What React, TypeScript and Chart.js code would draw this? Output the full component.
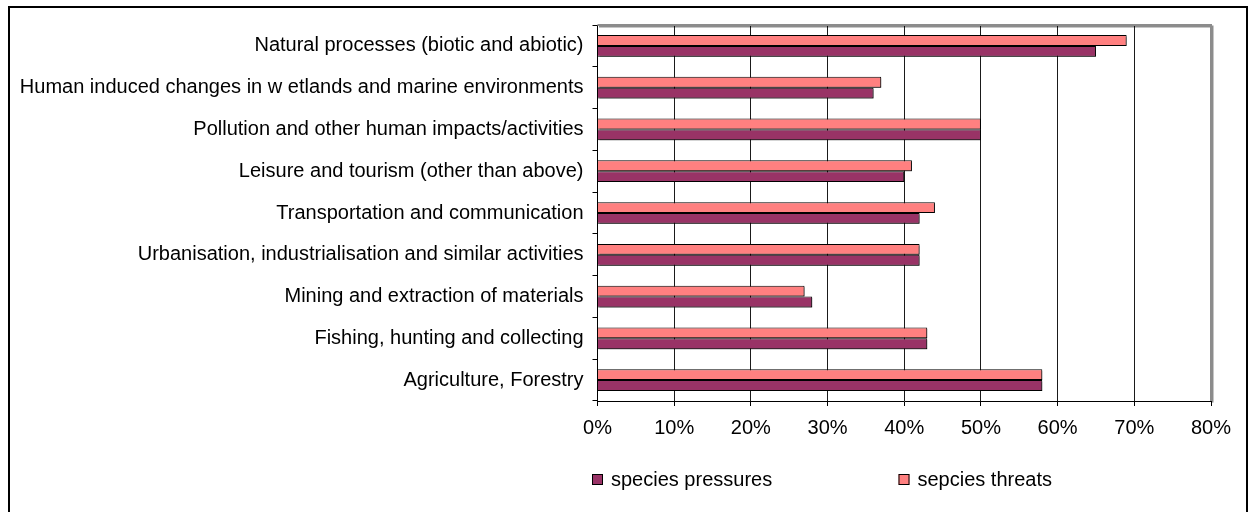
import React, { useEffect, useRef } from "react";
import { Chart, registerables } from "chart.js";

Chart.register(...registerables);

// Categories listed bottom-to-top (as in the original spreadsheet chart)
const categories = [
  "Agriculture, Forestry",
  "Fishing, hunting and collecting",
  "Mining and extraction of materials",
  "Urbanisation, industrialisation and similar activities",
  "Transportation and communication",
  "Leisure and tourism (other than above)",
  "Pollution and other human impacts/activities",
  "Human induced changes in w etlands and marine environments",
  "Natural processes (biotic and abiotic)",
];

const speciesPressures = [58, 43, 28, 42, 42, 40, 50, 36, 65];
const speciesThreats = [58, 43, 27, 42, 44, 41, 50, 37, 69];

const seriesNames = ["species pressures", "sepcies threats"];
const seriesColors = ["#993366", "#FF8080"];

const xTicks = [0, 10, 20, 30, 40, 50, 60, 70, 80];

const FONT = "'Liberation Sans', Arial, Helvetica, sans-serif";

const shadowPlugin = {
  id: "barShadow",
  beforeDatasetsDraw(chart: any) {
    const ctx = chart.ctx;
    ctx.save();
    ctx.shadowColor = "rgba(0,0,0,0.45)";
    ctx.shadowOffsetX = 1.5;
    ctx.shadowOffsetY = 1.5;
    ctx.shadowBlur = 0;
  },
  afterDatasetsDraw(chart: any) {
    chart.ctx.restore();
  },
};

const frameAndLegendPlugin = {
  id: "frameAndLegend",
  beforeDatasetsDraw(chart: any) {
    const { ctx, chartArea } = chart;
    ctx.save();
    ctx.strokeStyle = "#8c8c8c";
    ctx.lineWidth = 2;
    ctx.beginPath();
    ctx.moveTo(chartArea.left, chartArea.top);
    ctx.lineTo(chartArea.right, chartArea.top);
    ctx.lineTo(chartArea.right, chartArea.bottom);
    ctx.stroke();
    ctx.restore();
  },
  afterDraw(chart: any) {
    const { ctx, chartArea } = chart;
    const y = chartArea.bottom + 78.5;
    const starts = [chartArea.left - 5.5, chartArea.left + 301];
    ctx.save();
    ctx.font = `20px ${FONT}`;
    ctx.textBaseline = "middle";
    ctx.textAlign = "left";
    seriesNames.forEach((name, i) => {
      const x = starts[i];
      ctx.fillStyle = seriesColors[i];
      ctx.fillRect(x, y - 5.5, 11, 11);
      ctx.strokeStyle = "#000";
      ctx.lineWidth = 1;
      ctx.strokeRect(x + 0.5, y - 5, 10, 10);
      ctx.fillStyle = "#000";
      ctx.fillText(name, x + 19, y + 1);
    });
    ctx.restore();
  },
};

export default function App() {
  const canvasRef = useRef<HTMLCanvasElement | null>(null);

  useEffect(() => {
    if (!canvasRef.current) return;
    const chart = new Chart(canvasRef.current, {
      type: "bar",
      data: {
        labels: categories,
        datasets: [
          {
            label: seriesNames[1],
            data: speciesThreats,
            backgroundColor: seriesColors[1],
            borderColor: "#000",
            borderWidth: 1,
          },
          {
            label: seriesNames[0],
            data: speciesPressures,
            backgroundColor: seriesColors[0],
            borderColor: "#000",
            borderWidth: 1,
          },
        ],
      },
      options: {
        indexAxis: "y",
        animation: false,
        responsive: false,
        devicePixelRatio: 1,
        datasets: {
          bar: {
            categoryPercentage: 0.52,
            barPercentage: 1,
          },
        },
        layout: {
          padding: { left: 0, right: 35, top: 17, bottom: 57 },
        },
        plugins: {
          legend: { display: false },
          tooltip: { enabled: false },
        },
        scales: {
          x: {
            min: 0,
            max: 80,
            afterFit(scale: any) {
              scale.height = 50;
              scale.paddingLeft = 0;
              scale.paddingRight = 0;
            },
            afterBuildTicks(scale: any) {
              scale.ticks = xTicks.map((v) => ({ value: v }));
            },
            border: { display: true, color: "#000", width: 1 },
            grid: {
              color: (c: any) => (c.tick && c.tick.value === 80 ? "rgba(0,0,0,0)" : "#1a1a1a"),
              tickColor: "#000",
              tickLength: 5,
              lineWidth: 1,
            },
            ticks: {
              padding: 10,
              color: "#000",
              font: { family: FONT, size: 20 },
              maxRotation: 0,
              callback: (v: any) => `${v}%`,
            },
          },
          y: {
            reverse: true,
            afterFit(scale: any) {
              scale.width = 587.5;
              scale.paddingTop = 0;
              scale.paddingBottom = 0;
            },
            border: { display: true, color: "#000", width: 1 },
            grid: {
              drawOnChartArea: false,
              drawTicks: true,
              tickLength: 5,
              color: "#000",
              tickColor: "#000",
            },
            ticks: {
              padding: 9,
              color: "#000",
              font: { family: FONT, size: 20 },
              autoSkip: false,
            },
          },
        },
      },
      plugins: [shadowPlugin, frameAndLegendPlugin],
    });
    return () => chart.destroy();
  }, []);

  return (
    <div
      style={{
        position: "fixed",
        top: 6,
        left: 8,
        width: 1240,
        height: 512,
        border: "2px solid #000",
        boxSizing: "border-box",
        background: "#fff",
      }}
    >
      <canvas ref={canvasRef} width={1236} height={500} style={{ display: "block" }} />
    </div>
  );
}
